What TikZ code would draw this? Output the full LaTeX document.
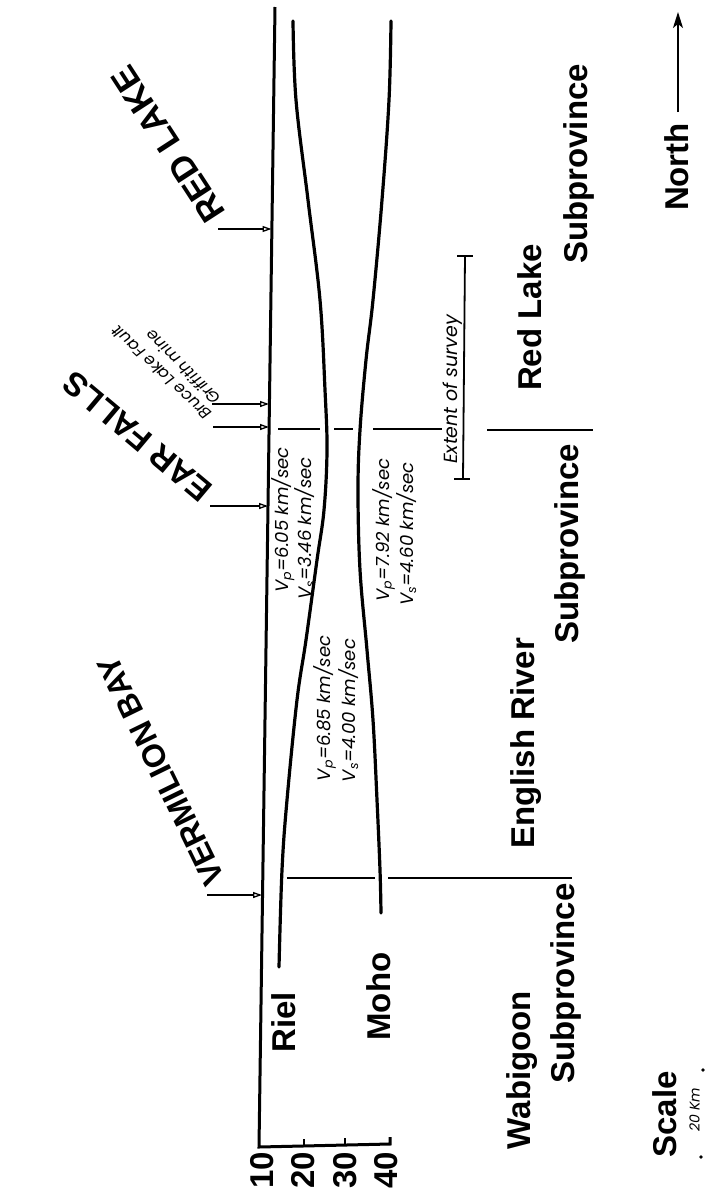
\documentclass[tikz,border=0pt]{standalone}
\usepackage{fontspec}
\setmainfont{Liberation Sans}
\newfontfamily\geo{Poppins}
\usetikzlibrary{arrows.meta}
\begin{document}
\begin{tikzpicture}[x=1pt,y=-1pt,
  surf/.style={line width=3pt},
  crv/.style={line width=3.2pt, line cap=round},
  bline/.style={line width=1.8pt},
  arr/.style={line width=1.3pt, -{Triangle[open,length=9pt,width=6pt]}},
  big/.style={font=\fontsize{33}{36}\selectfont\bfseries, inner sep=0pt},
  vel/.style={font=\geo\itshape\fontsize{18}{21}\selectfont, inner sep=0pt, rotate=90},
  small/.style={font=\geo\itshape\fontsize{16}{19}\selectfont, inner sep=0pt},
]
\fill[white] (0,0) rectangle (705,1197);
\useasboundingbox (0,0) rectangle (705,1197);

% surface line and depth axis
\coordinate (s0) at (275,7);
\coordinate (s1) at (259,1147);
\coordinate (a40) at (390,1144);
\draw[surf, line join=miter] (s0) -- (s1) -- (a40) -- (390,1137);
\draw[bline] (304,1146) -- (304,1139);
\draw[bline] (345,1145) -- (345,1138);

\node[big, rotate=90, anchor=east] (d10) at (262,1152) {10};
\node[big, rotate=90, anchor=east] (d20) at (303,1152) {20};
\node[big, rotate=90, anchor=east] (d30) at (345,1152) {30};
\node[big, rotate=90, anchor=east] (d40) at (386,1152) {40};

% Riel and Moho
\draw[crv] plot[smooth, tension=0.6] coordinates {(293,21) (296,100) (308,200) (320,300) (325,390) (327,450) (324,510) (317,560) (306,640) (297,700) (287,800) (282,870) (279,967)};
\draw[crv] plot[smooth, tension=0.6] coordinates {(391,21) (389,100) (382,200) (373,300) (366,360) (360,430) (358,490) (360,570) (367,650) (373,720) (377,800) (380,870) (381,913)};

% subprovince boundaries
\draw[bline] (278,429) -- (320,429);
\draw[bline] (334,429) -- (353,429);
\draw[bline] (373,429) -- (442,429);
\draw[bline] (487,430) -- (593,430);
\draw[bline] (287,878) -- (375,878);
\draw[bline] (388,878) -- (572,878);

% extent of survey
\draw[bline] (465,256) -- (463,479);
\draw[bline] (457,256) -- (473,256);
\draw[bline] (454,479) -- (470,479);
\node[vel, font=\geo\itshape\fontsize{19}{22}\selectfont] (ext) at (452.5,389.5) {Extent of survey};

% velocity labels
\node[vel] (vp1) at (283,520) {V\textsubscript{p}=6.05 km/sec};
\node[vel] (vs1) at (305,528.5) {V\textsubscript{s}=3.46 km/sec};
\node[vel] (vp2) at (383.5,530) {V\textsubscript{p}=7.92 km/sec};
\node[vel] (vs2) at (406.5,534) {V\textsubscript{s}=4.60 km/sec};
\node[vel] (vp3) at (324.5,708.5) {V\textsubscript{p}=6.85 km/sec};
\node[vel] (vs3) at (348.5,710.5) {V\textsubscript{s}=4.00 km/sec};

% layer and province labels
\node[big, rotate=90] (riel) at (283.5,1022.5) {Riel};
\node[big, rotate=90] (moho) at (379,996.5) {Moho};
\node[big, rotate=90] (wab) at (522,1070) {Wabigoon};
\node[big, rotate=90] (wabs) at (566,983.5) {Subprovince};
\node[big, rotate=90] (eng) at (526.5,743.5) {English River};
\node[big, rotate=90] (engs) at (570,544) {Subprovince};
\node[big, rotate=90] (rl) at (529.5,317.5) {Red Lake};
\node[big, rotate=90] (rls) at (578.5,164) {Subprovince};
\node[big, rotate=90] (north) at (676.5,167) {North};
\coordinate (n0) at (678,112);
\coordinate (n1) at (678,12);
\draw[line width=1.6pt, -{Stealth[length=16pt,width=10pt,inset=4pt]}] (n0) -- (n1);
\node[big, rotate=90] (scale) at (664.5,1114.5) {Scale};
\node[small, rotate=90, font=\geo\itshape\fontsize{14}{17}\selectfont] (km) at (694.5,1110) {20 Km};
\fill (703,1070) circle (1.8pt);
\fill (701,1157) circle (1.8pt);

% place labels with arrows to the surface
\node[big, rotate=123, anchor=base west, font=\fontsize{35}{38}\selectfont\bfseries] (redlake) at (227,213) {RED LAKE};
\node[small, rotate=137, anchor=base west] (bruce) at (213,413) {Bruce Lake Fault};
\node[small, rotate=135, anchor=base west] (griff) at (222,398) {Griffith mine};
\node[big, rotate=140, anchor=base west] (earfalls) at (215,487) {EAR FALLS};
\node[big, rotate=116, anchor=base west, font=\fontsize{32}{35}\selectfont\bfseries] (verm) at (226,879) {VERMILION BAY};

\coordinate (t1) at (218,229);  \coordinate (h1) at (271.5,229);
\coordinate (t2) at (212,404);  \coordinate (h2) at (269,404);
\coordinate (t3) at (213,427);  \coordinate (h3) at (269,427);
\coordinate (t4) at (210,506);  \coordinate (h4) at (268,506);
\coordinate (t5) at (207,895);  \coordinate (h5) at (262,895);
\draw[arr] (t1) -- (h1);
\draw[arr] (t2) -- (h2);
\draw[arr] (t3) -- (h3);
\draw[arr] (t4) -- (h4);
\draw[arr] (t5) -- (h5);
\end{tikzpicture}
\end{document}
